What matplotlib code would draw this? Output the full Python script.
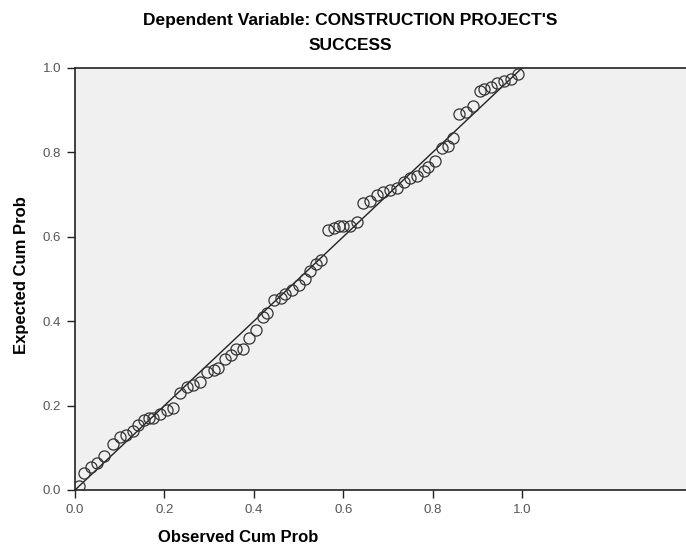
import matplotlib
matplotlib.use("Agg")
import matplotlib.pyplot as plt

observed = [0.01, 0.02, 0.035, 0.05, 0.065, 0.085, 0.10, 0.115, 0.13, 0.14, 0.155, 0.165, 0.175,
            0.19, 0.205, 0.22, 0.235, 0.25, 0.265, 0.28, 0.295, 0.31, 0.32, 0.335, 0.35, 0.36,
            0.375, 0.39, 0.405, 0.42, 0.43, 0.445, 0.46, 0.47, 0.485, 0.50, 0.515, 0.525, 0.54,
            0.55, 0.565, 0.58, 0.59, 0.60, 0.615, 0.63, 0.645, 0.66, 0.675, 0.69, 0.705, 0.72,
            0.735, 0.75, 0.765, 0.78, 0.79, 0.805, 0.82, 0.835, 0.845, 0.86, 0.875, 0.89, 0.905,
            0.915, 0.93, 0.945, 0.96, 0.975, 0.99]
expected = [0.01, 0.04, 0.055, 0.065, 0.08, 0.11, 0.125, 0.13, 0.14, 0.155, 0.165, 0.17, 0.17,
            0.18, 0.19, 0.195, 0.23, 0.245, 0.25, 0.255, 0.28, 0.285, 0.29, 0.31, 0.32, 0.335,
            0.335, 0.36, 0.38, 0.41, 0.42, 0.45, 0.455, 0.465, 0.475, 0.485, 0.50, 0.52, 0.535,
            0.545, 0.615, 0.62, 0.625, 0.625, 0.625, 0.635, 0.68, 0.685, 0.70, 0.705, 0.71, 0.715,
            0.73, 0.74, 0.745, 0.755, 0.765, 0.78, 0.81, 0.815, 0.835, 0.89, 0.895, 0.91, 0.945,
            0.95, 0.955, 0.965, 0.97, 0.975, 0.985]
ticks = [0.0, 0.2, 0.4, 0.6, 0.8, 1.0]
tick_labels = ["0.0", "0.2", "0.4", "0.6", "0.8", "1.0"]

plt.rcParams['font.family'] = ['Liberation Sans', 'DejaVu Sans']
fig = plt.figure(figsize=(6.86, 5.48), dpi=100)
ax = fig.add_axes([75/686, 58/548, 1 - 75/686, 422/548])
ax.set_facecolor('#f0f0f0')
ax.set_xlim(0, (686 - 75) / 447)
ax.set_ylim(0, 1.0)
ax.plot([0, 1], [0, 1], color='#222222', lw=1.0, zorder=2)
ax.plot(observed, expected, linestyle='none', marker='o', markersize=8,
        markerfacecolor='none', markeredgecolor='#333333', markeredgewidth=0.9, zorder=3)
ax.set_xticks(ticks)
ax.set_xticklabels(tick_labels)
ax.set_yticks(ticks)
ax.set_yticklabels(tick_labels)
ax.tick_params(direction='out', length=6, width=1, colors='#222222', labelcolor='#555555',
               labelsize=9.5, pad=4)
ax.spines['right'].set_visible(False)
for s in ['left', 'bottom', 'top']:
    ax.spines[s].set_linewidth(1.2)
    ax.spines[s].set_color('#222222')
fig.text(238/686, 1 - 538/548, 'Observed Cum Prob', ha='center', va='center',
         fontsize=12, fontweight='bold')
fig.text(22/686, 1 - 275/548, 'Expected Cum Prob', ha='center', va='center',
         rotation=90, fontsize=12, fontweight='bold')
fig.text(0.51, 1 - 21/548, "Dependent Variable: CONSTRUCTION PROJECT'S", ha='center', va='center',
         fontsize=12.5, fontweight='bold')
fig.text(0.51, 1 - 45/548, "SUCCESS", ha='center', va='center', fontsize=12.5, fontweight='bold')
fig.savefig('out.png', dpi=100)
